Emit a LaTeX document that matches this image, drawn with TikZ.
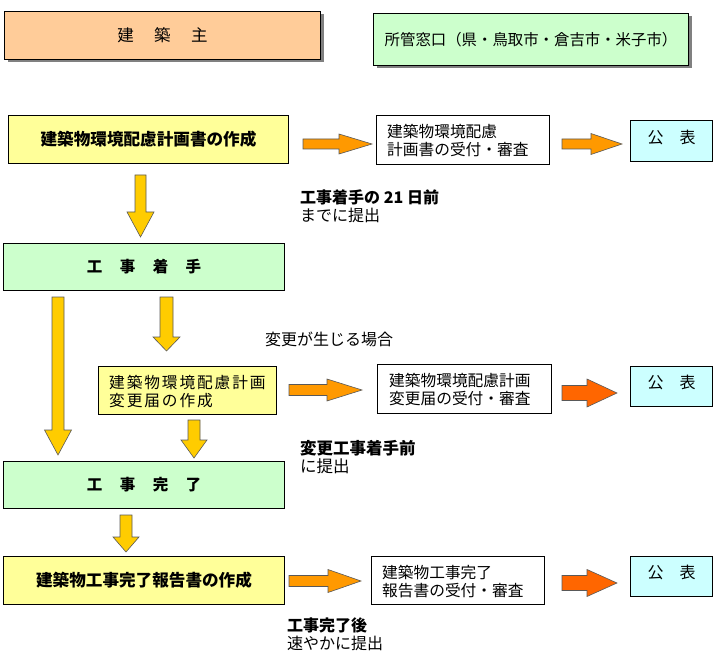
\documentclass[tikz,border=0pt]{standalone}
\usepackage{fontspec}
\setmainfont{Noto Sans CJK JP}
\usetikzlibrary{shadows}
\definecolor{peach}{HTML}{FFCC99}
\definecolor{lgreen}{HTML}{CCFFCC}
\definecolor{lyellow}{HTML}{FFFF99}
\definecolor{lcyan}{HTML}{CCFFFF}
\definecolor{arryellow}{HTML}{FFCC00}
\definecolor{arrorange}{HTML}{FF9900}
\definecolor{arrred}{HTML}{FF6600}
\newcommand{\hblockarrow}[7]{\filldraw[fill=#7, draw=black!65, line width=0.6pt, line join=miter] ({#1},{-#4+#5}) -- ({#2},{-#4+#5}) -- ({#2},{-#4+#6}) -- ({#3},{-#4}) -- ({#2},{-#4-#6}) -- ({#2},{-#4-#5}) -- ({#1},{-#4-#5}) -- cycle;}
\newcommand{\vblockarrow}[7]{\filldraw[fill=#7, draw=black!65, line width=0.6pt, line join=miter] ({#1-#5},{-#2}) -- ({#1+#5},{-#2}) -- ({#1+#5},{-#3}) -- ({#1+#6},{-#3}) -- ({#1},{-#4}) -- ({#1-#6},{-#3}) -- ({#1-#5},{-#3}) -- cycle;}
\begin{document}
\begin{tikzpicture}[x=1pt,y=1pt,
  box/.style={draw=black, line width=1pt, inner sep=0pt, anchor=north west},
  shbox/.style={box, drop shadow={shadow xshift=3pt, shadow yshift=-3pt, fill=black!50, opacity=1}},
  lbl/.style={anchor=west, align=left, inner sep=0pt, font=\fontsize{15.7}{18}\selectfont},
  note/.style={anchor=west, align=left, inner sep=0pt, font=\fontsize{16}{18}\selectfont},
  bigtxt/.style={font=\fontsize{16.6}{19}\selectfont\bfseries},
  sptxt/.style={font=\fontsize{15.5}{17}\selectfont\bfseries},
  pubtxt/.style={font=\fontsize{16}{18}\selectfont}]
\useasboundingbox (0,0) rectangle (720,-655);
\fill[white] (0,0) rectangle (720,-655);

% header boxes
\node[shbox, fill=peach, minimum width=316, minimum height=48, font=\fontsize{16.5}{19}\selectfont] (owner) at (4,-11) {建\hspace{20.5pt}築\hspace{20.5pt}主};
\node[shbox, fill=lgreen, minimum width=315, minimum height=52, font=\fontsize{15.4}{18}\selectfont] (office) at (373,-13) {所管窓口（県・鳥取市・倉吉市・米子市）};

% row 1
\node[box, fill=lyellow, minimum width=280, minimum height=48, bigtxt] (plan) at (8,-115) {建築物環境配慮計画書の作成};
\node[box, fill=white, minimum width=173, minimum height=49] (rec1) at (376,-115) {};
\node[lbl] (rec1t) at ([xshift=11pt,yshift=-1pt]rec1.west) {建築物環境配慮\\計画書の受付・審査};
\node[box, fill=lcyan, minimum width=82, minimum height=41] (pub1) at (630,-120) {};
\node[pubtxt] (pub1t) at ([yshift=3.5pt]pub1.center) {公\hspace{16pt}表};
\hblockarrow{303}{339}{372}{144}{5}{10}{arrorange}
\hblockarrow{562}{591}{622}{144}{5}{10.5}{arrorange}
\node[note] (note1) at (300,-206) {\textbf{工事着手の 21 日前}\\までに提出};

\vblockarrow{140.5}{175}{212}{237}{5.5}{13.5}{arryellow}

% row 2
\node[box, fill=lgreen, minimum width=281, minimum height=47, sptxt] (start) at (3,-243) {工\hspace{17.5pt}事\hspace{17.5pt}着\hspace{17.5pt}手};
\vblockarrow{58}{297}{430}{455}{6}{13.5}{arryellow}
\vblockarrow{166.5}{297}{337}{351}{6.5}{13.5}{arryellow}
\node[note] (note2) at (265,-339) {変更が生じる場合};

% row 3
\node[box, fill=lyellow, minimum width=178, minimum height=48] (chg) at (98,-366) {};
\node[lbl, font=\fontsize{15.7}{18}\selectfont\addfontfeatures{LetterSpace=12}] (chgt) at ([xshift=11pt,yshift=-1pt]chg.west) {建築物環境配慮計画\\変更届の作成};
\node[box, fill=white, minimum width=174, minimum height=49] (rec2) at (377,-364) {};
\node[lbl] (rec2t) at ([xshift=12pt,yshift=-1pt]rec2.west) {建築物環境配慮計画\\変更届の受付・審査};
\node[box, fill=lcyan, minimum width=82, minimum height=40] (pub2) at (630,-366) {};
\node[pubtxt] (pub2t) at ([yshift=4pt]pub2.center) {公\hspace{16pt}表};
\hblockarrow{289}{327}{362}{390}{5.5}{11}{arrorange}
\hblockarrow{562}{587}{617}{393}{7.5}{14}{arrred}
\vblockarrow{194}{420}{440}{458}{6}{13}{arryellow}
\node[note, font=\fontsize{16.5}{18}\selectfont] (note3) at (300,-457) {\textbf{変更工事着手前}\\に提出};

% row 4
\node[box, fill=lgreen, minimum width=281, minimum height=47, sptxt] (done) at (3,-461) {工\hspace{17.5pt}事\hspace{17.5pt}完\hspace{17.5pt}了};
\vblockarrow{126}{515}{537}{552}{6}{13}{arryellow}

% row 5
\node[box, fill=lyellow, minimum width=281, minimum height=48, bigtxt] (rep) at (3,-556) {建築物工事完了報告書の作成};
\node[box, fill=white, minimum width=173, minimum height=48] (rec3) at (371,-556) {};
\node[lbl] (rec3t) at ([xshift=11pt,yshift=-1pt]rec3.west) {建築物工事完了\\報告書の受付・審査};
\node[box, fill=lcyan, minimum width=82, minimum height=40] (pub3) at (630,-556) {};
\node[pubtxt] (pub3t) at ([yshift=4pt]pub3.center) {公\hspace{16pt}表};
\hblockarrow{289}{328}{361}{581}{5.5}{11.5}{arrorange}
\hblockarrow{562}{587}{617}{583}{7.5}{13.5}{arrred}
\node[note] (note4) at (287,-634) {\textbf{工事完了後}\\速やかに提出};
\end{tikzpicture}
\end{document}
